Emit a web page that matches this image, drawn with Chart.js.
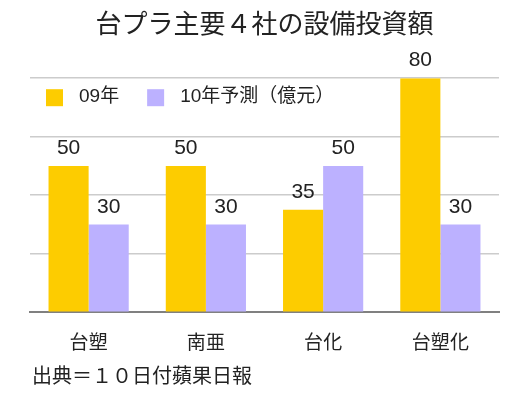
<!DOCTYPE html>
<html>
<head>
<meta charset="utf-8">
<script src="https://cdn.jsdelivr.net/npm/chart.js@4"></script>
<style>
  html, body { margin: 0; padding: 0; background: #fff; }
  #wrap { width: 528px; height: 397px; }
</style>
</head>
<body>
<div id="wrap"><canvas id="capexChart" width="528" height="397"></canvas></div>
<script>
// chart data
const TITLE = '台プラ主要４社の設備投資額';
const SOURCE = '出典＝１０日付蘋果日報';
const companies = ['台塑', '南亜', '台化', '台塑化'];
const seriesLabels = ['09年', '10年予測（億元）'];
const capex09 = [50, 50, 35, 80];
const capex10 = [30, 30, 50, 30];
const yTicks = [0, 20, 40, 60, 80];

const FONT = '"Liberation Sans", "Noto Sans CJK JP", sans-serif';
const colors = ['#FDCC00', '#BCB1FF'];

// value labels above each bar
const valueLabels = {
    id: 'valueLabels',
    afterDatasetsDraw(chart) {
        const ctx = chart.ctx;
        ctx.save();
        ctx.font = '21px ' + FONT;
        ctx.fillStyle = '#222';
        ctx.textAlign = 'center';
        ctx.textBaseline = 'bottom';
        chart.data.datasets.forEach((ds, i) => {
            chart.getDatasetMeta(i).data.forEach((bar, j) => {
                ctx.fillText(String(ds.data[j]), bar.x, bar.y - 7);
            });
        });
        ctx.restore();
    }
};

// legend drawn inside the plot area, plus source note
const innerLegend = {
    id: 'innerLegend',
    afterDraw(chart) {
        const ctx = chart.ctx;
        const area = chart.chartArea;
        ctx.save();
        ctx.font = '19px ' + FONT;
        ctx.textBaseline = 'middle';
        ctx.textAlign = 'left';
        let x = area.left + 16;
        const y = area.top + 19;
        chart.data.datasets.forEach(ds => {
            ctx.fillStyle = ds.backgroundColor;
            ctx.fillRect(x, y - 8, 17, 17);
            ctx.fillStyle = '#222';
            ctx.fillText(ds.label, x + 33, y);
            x += 33 + ctx.measureText(ds.label).width + 28;
        });

        ctx.font = '20px ' + FONT;
        ctx.fillStyle = '#222';
        ctx.fillText(SOURCE, area.left + 2, 377);
        ctx.restore();
    }
};

document.addEventListener('DOMContentLoaded', function() {
    const ctx = document.getElementById('capexChart').getContext('2d');

    new Chart(ctx, {
        type: 'bar',
        data: {
            labels: companies,
            datasets: [
                {
                    label: seriesLabels[0],
                    data: capex09,
                    backgroundColor: colors[0],
                    borderWidth: 0,
                    categoryPercentage: 0.684,
                    barPercentage: 1
                },
                {
                    label: seriesLabels[1],
                    data: capex10,
                    backgroundColor: colors[1],
                    borderWidth: 0,
                    categoryPercentage: 0.684,
                    barPercentage: 1
                }
            ]
        },
        options: {
            responsive: false,
            animation: false,
            layout: {
                padding: { left: 30, right: 29, top: 0, bottom: 30 }
            },
            plugins: {
                legend: { display: false },
                tooltip: { enabled: false },
                title: {
                    display: true,
                    text: TITLE,
                    color: '#222',
                    font: { family: FONT, size: 26, weight: 'normal' },
                    padding: { top: 10, bottom: 37 }
                }
            },
            scales: {
                x: {
                    grid: { display: false },
                    border: { display: true, color: '#808080', width: 2 },
                    ticks: {
                        color: '#222',
                        font: { family: FONT, size: 19 },
                        padding: 12
                    }
                },
                y: {
                    min: yTicks[0],
                    max: yTicks[yTicks.length - 1],
                    afterBuildTicks: axis => {
                        axis.ticks = yTicks.map(v => ({ value: v }));
                    },
                    grid: { color: '#cccccc', lineWidth: 1.5, drawTicks: false },
                    border: { display: false },
                    ticks: { display: false }
                }
            }
        },
        plugins: [valueLabels, innerLegend]
    });
});
</script>
</body>
</html>
